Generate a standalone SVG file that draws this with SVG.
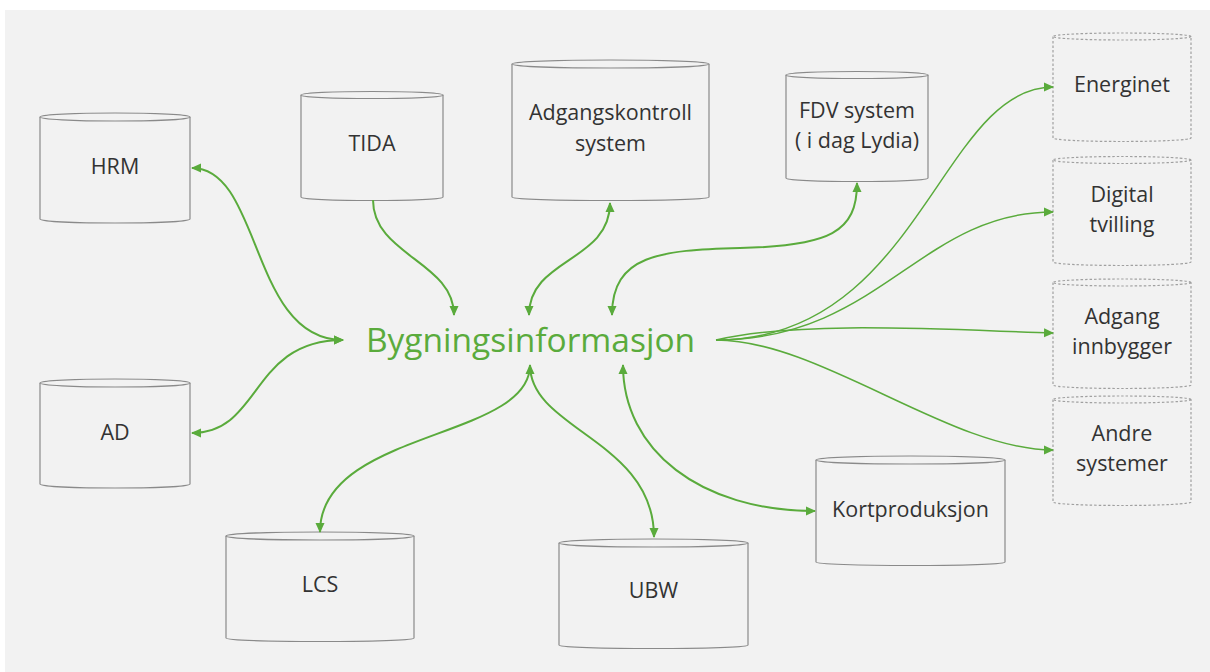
<svg xmlns="http://www.w3.org/2000/svg" width="1210" height="672" viewBox="0 0 1210 672">
<defs>
<style>
.cyl{fill:#f2f2f2;stroke:#8a8a8a;stroke-width:1.2}
.dcyl{fill:#f2f2f2;stroke:#a0a0a0;stroke-width:1.2;stroke-dasharray:2.5 2}
.lbl{font-family:"Open Sans","Liberation Sans",sans-serif;font-size:21.5px;fill:#333;text-anchor:middle}
.c{fill:none;stroke:#5aab3c;stroke-width:2}
.t{fill:none;stroke:#5aab3c;stroke-width:1.5}
</style>
<marker id="ah" viewBox="0 0 10 10" refX="9" refY="5" markerWidth="10" markerHeight="10" markerUnits="userSpaceOnUse" orient="auto-start-reverse">
<path d="M0,0.5 L10,5 L0,9.5 Z" fill="#5aab3c"/>
</marker>
</defs>
<rect x="0" y="0" width="1210" height="672" fill="#ffffff"/>
<rect x="5" y="10" width="1205" height="662" fill="#f2f2f2"/>

<g id="node-hrm">
<path class="cyl" d="M40,117 L40,219 A75,4 0 0 0 190,219 L190,117"/>
<ellipse class="cyl" cx="115" cy="117" rx="75" ry="4"/>
<text class="lbl" x="115" y="174">HRM</text>
</g>
<g id="node-ad">
<path class="cyl" d="M40,383 L40,484 A75,4 0 0 0 190,484 L190,383"/>
<ellipse class="cyl" cx="115" cy="383" rx="75" ry="4"/>
<text class="lbl" x="115" y="440">AD</text>
</g>
<g id="node-tida">
<path class="cyl" d="M301,95 L301,197 A71,3.5 0 0 0 443,197 L443,95"/>
<ellipse class="cyl" cx="372" cy="95" rx="71" ry="3.5"/>
<text class="lbl" x="372" y="151">TIDA</text>
</g>
<g id="node-adgangskontroll">
<path class="cyl" d="M512,64 L512,197 A98.5,3.5 0 0 0 709,197 L709,64"/>
<ellipse class="cyl" cx="610.5" cy="64" rx="98.5" ry="4"/>
<text class="lbl" x="610.5" y="120">Adgangskontroll</text>
<text class="lbl" x="610.5" y="151">system</text>
</g>
<g id="node-fdv">
<path class="cyl" d="M786,75 L786,178 A71,3.5 0 0 0 928,178 L928,75"/>
<ellipse class="cyl" cx="857" cy="75" rx="71" ry="3.5"/>
<text class="lbl" x="857" y="118">FDV system</text>
<text class="lbl" x="857" y="148">( i dag Lydia)</text>
</g>
<g id="node-lcs">
<path class="cyl" d="M226,536 L226,638 A94,3.5 0 0 0 414,638 L414,536"/>
<ellipse class="cyl" cx="320" cy="536" rx="94" ry="4"/>
<text class="lbl" x="320" y="592">LCS</text>
</g>
<g id="node-ubw">
<path class="cyl" d="M559,543 L559,645 A94.5,3.5 0 0 0 748,645 L748,543"/>
<ellipse class="cyl" cx="653.5" cy="543" rx="94.5" ry="4"/>
<text class="lbl" x="653.5" y="598">UBW</text>
</g>
<g id="node-kortproduksjon">
<path class="cyl" d="M816,460 L816,562 A94.5,3.5 0 0 0 1005,562 L1005,460"/>
<ellipse class="cyl" cx="910.5" cy="460" rx="94.5" ry="4"/>
<text class="lbl" x="910.5" y="517">Kortproduksjon</text>
</g>
<g id="node-energinet">
<path class="dcyl" d="M1053,36.5 L1053,138 A69,3.5 0 0 0 1191,138 L1191,36.5"/>
<ellipse class="dcyl" cx="1122" cy="36.5" rx="69" ry="3.5"/>
<text class="lbl" x="1122" y="92">Energinet</text>
</g>
<g id="node-digital">
<path class="dcyl" d="M1053,160 L1053,262 A69,3.5 0 0 0 1191,262 L1191,160"/>
<ellipse class="dcyl" cx="1122" cy="160" rx="69" ry="3.5"/>
<text class="lbl" x="1122" y="202">Digital</text>
<text class="lbl" x="1122" y="232">tvilling</text>
</g>
<g id="node-adgang">
<path class="dcyl" d="M1053,282.5 L1053,385 A69,3.5 0 0 0 1191,385 L1191,282.5"/>
<ellipse class="dcyl" cx="1122" cy="282.5" rx="69" ry="3.5"/>
<text class="lbl" x="1122" y="324">Adgang</text>
<text class="lbl" x="1122" y="354">innbygger</text>
</g>
<g id="node-andre">
<path class="dcyl" d="M1053,399.5 L1053,502 A69,3.5 0 0 0 1191,502 L1191,399.5"/>
<ellipse class="dcyl" cx="1122" cy="399.5" rx="69" ry="3.5"/>
<text class="lbl" x="1122" y="441">Andre</text>
<text class="lbl" x="1122" y="471">systemer</text>
</g>
<g id="node-center">
<text x="530.5" y="352" font-family="'Open Sans','Liberation Sans',sans-serif" font-size="33.5" fill="#5aab3c" text-anchor="middle">Bygningsinformasjon</text>
</g>

<g id="connectors">
<path class="c" d="M192,168 C262,168 250,340 343,340" marker-start="url(#ah)" marker-end="url(#ah)"/>
<path class="c" d="M192,433 C262,433 250,340 343,340" marker-start="url(#ah)" marker-end="url(#ah)"/>
<path class="c" d="M373,200 C373,255 454,262 454,315" marker-end="url(#ah)"/>
<path class="c" d="M610,203 C610,262 529,258 529,315" marker-start="url(#ah)" marker-end="url(#ah)"/>
<path class="c" d="M612,315 C612,255 660,250 740,248 C830,246 857,232 857,183" marker-start="url(#ah)" marker-end="url(#ah)"/>
<path class="c" d="M530,365 C530,440 320,430 320,532" marker-start="url(#ah)" marker-end="url(#ah)"/>
<path class="c" d="M530,365 C530,430 654,440 654,537" marker-end="url(#ah)"/>
<path class="c" d="M623,365 C623,450 700,511 815,511" marker-start="url(#ah)" marker-end="url(#ah)"/>
<path class="t" d="M716,340 C920,340 940,87 1053,87" marker-end="url(#ah)"/>
<path class="t" d="M716,340 C880,340 920,212 1053,212" marker-end="url(#ah)"/>
<path class="t" d="M716,340 C800,320 950,330 1053,333" marker-end="url(#ah)"/>
<path class="t" d="M716,340 C820,340 950,450 1053,450" marker-end="url(#ah)"/>
</g>
</svg>
